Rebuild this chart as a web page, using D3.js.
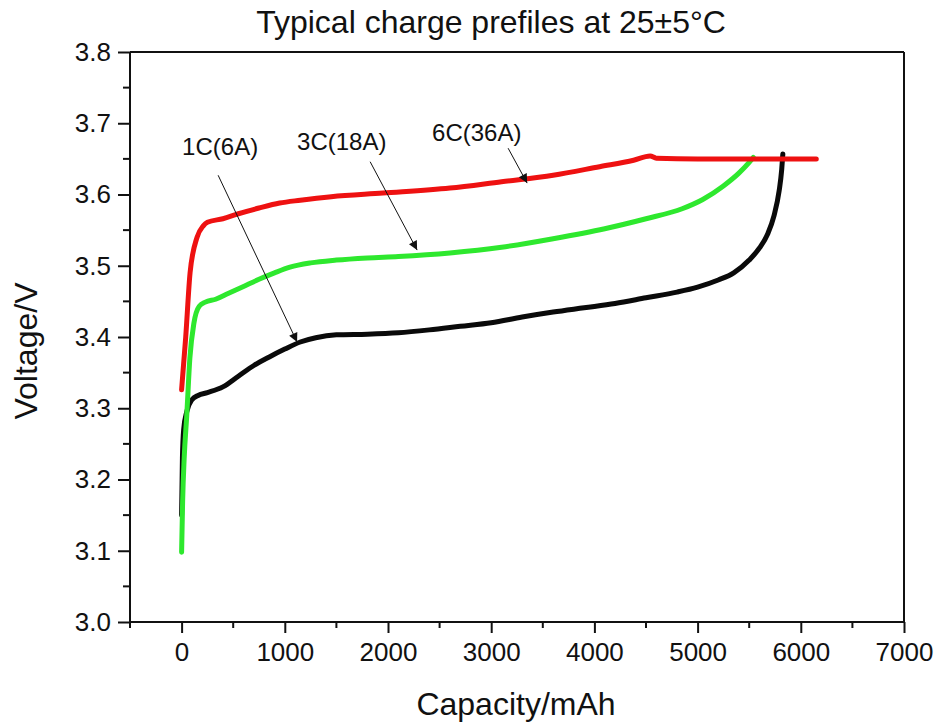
<!DOCTYPE html>
<html><head><meta charset="utf-8">
<script src="https://cdn.jsdelivr.net/npm/d3@7"></script>
<style>body{margin:0;background:#fff;} text{font-family:Arial,"Liberation Sans",sans-serif;fill:#111;}</style>
</head><body>
<svg id="chart" width="939" height="724"></svg>
<script>
// ---- data ----
const cap1C = [0, 8, 20, 50, 100, 160, 250, 400, 550, 700, 850, 1000, 1150, 1300, 1500, 1800, 2100, 2400, 2700, 3000, 3300, 3600, 3900, 4200, 4500, 4800, 5000, 5200, 5350, 5500, 5600, 5680, 5740, 5790, 5815, 5826];
const volt1C = [3.15, 3.23, 3.27, 3.295, 3.312, 3.318, 3.322, 3.33, 3.345, 3.36, 3.372, 3.383, 3.393, 3.399, 3.403, 3.404, 3.406, 3.41, 3.415, 3.42, 3.428, 3.435, 3.441, 3.447, 3.455, 3.463, 3.47, 3.48, 3.49, 3.508, 3.525, 3.545, 3.57, 3.605, 3.635, 3.657];
const cap3C = [0, 10, 25, 50, 80, 120, 170, 230, 330, 450, 600, 750, 900, 1050, 1250, 1500, 1800, 2100, 2600, 3100, 3600, 4100, 4500, 4850, 5050, 5250, 5400, 5500, 5540];
const volt3C = [3.098, 3.17, 3.23, 3.29, 3.37, 3.42, 3.443, 3.449, 3.453, 3.461, 3.471, 3.481, 3.49, 3.498, 3.504, 3.508, 3.511, 3.513, 3.518, 3.526, 3.538, 3.552, 3.566, 3.58, 3.593, 3.612, 3.63, 3.645, 3.652];
const cap6C = [0, 40, 82, 150, 210, 250, 400, 550, 750, 950, 1150, 1450, 1950, 2600, 3100, 3600, 4050, 4380, 4540, 4600, 5000, 5500, 6000, 6150];
const volt6C = [3.326, 3.40, 3.49, 3.54, 3.556, 3.561, 3.566, 3.573, 3.581, 3.588, 3.592, 3.597, 3.602, 3.609, 3.618, 3.627, 3.639, 3.648, 3.654, 3.651, 3.65, 3.65, 3.65, 3.65];

const xMajorTicks = [0, 1000, 2000, 3000, 4000, 5000, 6000, 7000];
const xMinorTicks = [-500, 500, 1500, 2500, 3500, 4500, 5500, 6500];
const yMajorTicks = [3.0, 3.1, 3.2, 3.3, 3.4, 3.5, 3.6, 3.7, 3.8];
const yMinorTicks = [3.05, 3.15, 3.25, 3.35, 3.45, 3.55, 3.65, 3.75];

const labelNames = ["1C(6A)", "3C(18A)", "6C(36A)"];
const labelX = [5, 1119, 2427];
const labelY = [3.655, 3.662, 3.675];
const arrowFromX = [354, 1827, 3164];
const arrowFromY = [3.627, 3.646, 3.665];
const arrowToX = [1119, 2282, 3348];
const arrowToY = [3.393, 3.522, 3.616];

const titleText = "Typical charge prefiles at 25±5°C";
const xTitle = "Capacity/mAh";
const yTitle = "Voltage/V";

// ---- drawing ----
const svg = d3.select("#chart");
const L = 130, R = 904, T = 52, B = 622;
const x = d3.scaleLinear().domain([-500, 7000]).range([L, R]);
const y = d3.scaleLinear().domain([3.0, 3.8]).range([B, T]);

// frame (top and right)
svg.append("line").attr("x1", L).attr("x2", R).attr("y1", T).attr("y2", T).attr("stroke", "#111").attr("stroke-width", 2);
svg.append("line").attr("x1", R).attr("x2", R).attr("y1", T).attr("y2", B).attr("stroke", "#111").attr("stroke-width", 2);

// x axis
const gx = svg.append("g").attr("transform", `translate(0,${B})`)
  .call(d3.axisBottom(x).tickValues(xMajorTicks).tickFormat(d3.format("d")).tickSize(11).tickPadding(10));
gx.append("g").selectAll("line").data(xMinorTicks).join("line")
  .attr("x1", d => x(d)).attr("x2", d => x(d)).attr("y1", 0).attr("y2", 6).attr("stroke", "#111").attr("stroke-width", 2);
// y axis
const gy = svg.append("g").attr("transform", `translate(${L},0)`)
  .call(d3.axisLeft(y).tickValues(yMajorTicks).tickFormat(d3.format(".1f")).tickSize(12).tickPadding(7));
gy.append("g").selectAll("line").data(yMinorTicks).join("line")
  .attr("y1", d => y(d)).attr("y2", d => y(d)).attr("x1", 0).attr("x2", -7).attr("stroke", "#111").attr("stroke-width", 2);

[gx, gy].forEach(g => {
  g.select(".domain").attr("stroke", "#111").attr("stroke-width", 2);
  g.selectAll(".tick line").attr("stroke", "#111").attr("stroke-width", 2);
  g.selectAll(".tick text").attr("font-size", 26).attr("font-family", "Arial, 'Liberation Sans', sans-serif").attr("fill", "#111");
});
gx.select(".domain").attr("d", `M${L},0H${R}`);
gy.select(".domain").attr("d", `M0,${B}V${T}`);

// lines
const line = d3.line().x(d => x(d[0])).y(d => y(d[1])).curve(d3.curveMonotoneX);
const series = [
  {cap: cap1C, v: volt1C, color: "#0a0a0a"},
  {cap: cap3C, v: volt3C, color: "#2ee82e"},
  {cap: cap6C, v: volt6C, color: "#ee1111"}
];
series.forEach(s => {
  svg.append("path").datum(s.cap.map((c, i) => [c, s.v[i]]))
    .attr("d", line).attr("fill", "none").attr("stroke", s.color)
    .attr("stroke-width", 5).attr("stroke-linecap", "round").attr("stroke-linejoin", "round");
});

// arrows
svg.append("defs").append("marker").attr("id", "ah").attr("viewBox", "0 0 10 10")
  .attr("refX", 10).attr("refY", 5).attr("markerWidth", 12).attr("markerHeight", 9)
  .attr("markerUnits", "userSpaceOnUse").attr("orient", "auto")
  .append("path").attr("d", "M0,0L10,5L0,10z").attr("fill", "#111");
labelNames.forEach((n, i) => {
  svg.append("line").attr("x1", x(arrowFromX[i])).attr("y1", y(arrowFromY[i]))
    .attr("x2", x(arrowToX[i])).attr("y2", y(arrowToY[i]))
    .attr("stroke", "#111").attr("stroke-width", 1).attr("marker-end", "url(#ah)");
  svg.append("text").attr("x", x(labelX[i])).attr("y", y(labelY[i]))
    .attr("font-size", 24).text(n);
});

// titles
svg.append("text").attr("x", 491).attr("y", 33).attr("text-anchor", "middle").attr("font-size", 32).text(titleText);
svg.append("text").attr("x", 516).attr("y", 715).attr("text-anchor", "middle").attr("font-size", 32).text(xTitle);
svg.append("text").attr("transform", `translate(37,351) rotate(-90)`).attr("text-anchor", "middle").attr("font-size", 32).text(yTitle);
</script>
</body></html>
